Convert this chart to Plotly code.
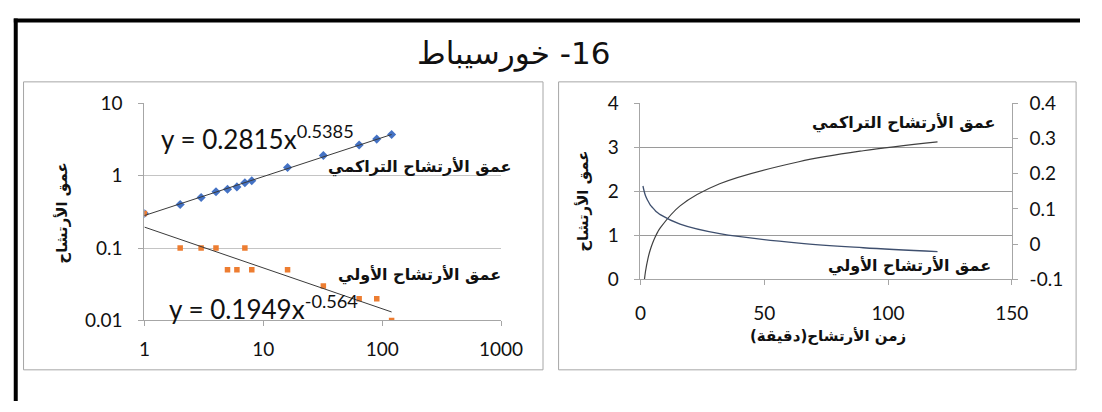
import plotly.graph_objects as go

W, H = 1102, 412

# infiltration test readings, time in minutes
time_min = [1, 2, 3, 4, 5, 6, 7, 8, 16, 32, 64, 90, 120]
cumulative_depth = [0.3, 0.4, 0.5, 0.6, 0.65, 0.7, 0.8, 0.85, 1.3, 1.9, 2.65, 3.2, 3.7]
initial_depth = [0.3, 0.1, 0.1, 0.1, 0.05, 0.05, 0.1, 0.05, 0.05, 0.03, 0.02, 0.02, 0.01]

# power-law trend lines y = a * x^b and the span they cover
cum_coef, cum_exp = 0.2815, 0.5385
init_coef, init_exp = 0.1949, -0.564
trend_span = [1, 120]

# smoothed curves for the linear chart (left and right value axes)
cumulative_curve = [-0.33, 0.17, 0.47, 0.68, 0.84, 0.97, 1.08, 1.17, 1.67, 2.17, 2.67, 2.92, 3.12]
initial_curve = [0.165, 0.138, 0.123, 0.111, 0.103, 0.095, 0.089, 0.084, 0.057, 0.030, 0.003, -0.010, -0.021]

log_x_ticks = [1, 10, 100, 1000]
log_y_ticks = [0.01, 0.1, 1, 10]
log_y_text = ["0.01", "0.1", "1", "10"]
right_ticks = [-0.1, 0, 0.1, 0.2, 0.3, 0.4]
right_text = ["-0.1", "0", "0.1", "0.2", "0.3", "0.4"]

TITLE = "\u2068خورسيباط\u2069 -16"
DEPTH = "عمق الأرتشاح"
CUM_LABEL = "عمق الأرتشاح التراكمي"
INIT_LABEL = "عمق الأرتشاح الأولي"
TIME_LABEL = "زمن الأرتشاح(دقيقة)"

NUM_FONT = "Lato, 'Open Sans', sans-serif"
AR_FONT = "'DejaVu Sans', 'Noto Sans', sans-serif"


def px(x):
    return x / W


def py(y):
    return 1 - y / H


fig = go.Figure()

# log-log chart
fig.add_trace(go.Scatter(
    x=time_min, y=cumulative_depth, mode="markers", xaxis="x", yaxis="y",
    marker=dict(symbol="diamond", size=7, color="#4472C4"), showlegend=False))
fig.add_trace(go.Scatter(
    x=time_min, y=initial_depth, mode="markers", xaxis="x", yaxis="y",
    marker=dict(symbol="square", size=5.5, color="#ED7D31"), showlegend=False))
fig.add_trace(go.Scatter(
    x=trend_span, y=[cum_coef * t ** cum_exp for t in trend_span], mode="lines",
    xaxis="x", yaxis="y", line=dict(color="#3a3a3a", width=1), showlegend=False))
fig.add_trace(go.Scatter(
    x=trend_span, y=[init_coef * t ** init_exp for t in trend_span], mode="lines",
    xaxis="x", yaxis="y", line=dict(color="#3a3a3a", width=1), showlegend=False))

# linear chart with two value axes
fig.add_trace(go.Scatter(
    x=time_min, y=cumulative_curve, mode="lines", xaxis="x2", yaxis="y3",
    line=dict(color="#404040", width=1.2, shape="spline"), showlegend=False))
fig.add_trace(go.Scatter(
    x=time_min, y=initial_curve, mode="lines", xaxis="x2", yaxis="y4",
    line=dict(color="#3E4F6E", width=1.3, shape="spline"), showlegend=False))

axis_common = dict(
    showline=True, linecolor="#A6A6A6", linewidth=1, ticks="outside",
    tickcolor="#A6A6A6", ticklen=5, zeroline=False,
    tickfont=dict(family=NUM_FONT, size=19, color="#111"),
)

fig.update_layout(
    width=W, height=H, margin=dict(l=0, r=0, t=0, b=0),
    paper_bgcolor="white", plot_bgcolor="white",
    xaxis=dict(
        domain=[px(142), px(508)], type="log", range=[0, 3], anchor="y",
        tickvals=log_x_ticks, ticktext=[str(v) for v in log_x_ticks],
        showgrid=False, ticklabelstandoff=7, **axis_common),
    yaxis=dict(
        domain=[py(326.7), py(96.7)], type="log", range=[-2, 1], anchor="x",
        tickvals=log_y_ticks, ticktext=log_y_text,
        showgrid=True, gridcolor="#C4C4C4", ticklabelstandoff=12, **axis_common),
    xaxis2=dict(
        domain=[px(651), px(1032)], range=[0, 150], dtick=50, anchor="y3",
        showgrid=False, ticklabelstandoff=12, **axis_common),
    yaxis3=dict(
        domain=[py(283.3), py(96.5)], range=[0, 4], dtick=1, anchor="x2",
        showgrid=True, gridcolor="#9A9A9A", ticklabelstandoff=12, **axis_common),
    yaxis4=dict(
        domain=[py(283.3), py(96.5)], range=[-0.1, 0.4], anchor="x2",
        tickvals=right_ticks, ticktext=right_text,
        overlaying="y3", side="right", showgrid=False,
        ticklabelstandoff=8, **axis_common),
)

shapes = [
    # chart panels
    dict(type="rect", xref="paper", yref="paper", x0=px(18), x1=px(551), y0=py(379), y1=py(74),
         line=dict(color="#A6A6A6", width=1), layer="below"),
    dict(type="rect", xref="paper", yref="paper", x0=px(567), x1=px(1098), y0=py(379), y1=py(74),
         line=dict(color="#A6A6A6", width=1), layer="below"),
    # page frame
    dict(type="line", xref="paper", yref="paper", x0=px(8), x1=1, y0=py(9), y1=py(9),
         line=dict(color="black", width=4)),
    dict(type="line", xref="paper", yref="paper", x0=px(10), x1=px(10), y0=py(7), y1=0,
         line=dict(color="black", width=4)),
]
fig.update_layout(shapes=shapes)

ann = []


def text(x, y, s, size, font=AR_FONT, bold=False, angle=0, color="#111", anchor="center"):
    ann.append(dict(
        x=px(x), y=py(y), xref="paper", yref="paper", text=(f"<b>{s}</b>" if bold else s),
        showarrow=False, textangle=angle, xanchor=anchor, yanchor="middle",
        font=dict(family=font, size=size, color=color)))


text(521, 44, TITLE, 31)
text(58, 213, DEPTH, 15, bold=True, angle=-90)
text(592, 200, DEPTH, 15, bold=True, angle=-90)
text(843, 343, TIME_LABEL, 15, bold=True)
text(258, 133, f"y = {cum_coef}x<sup>{cum_exp}</sup>", 26, font=NUM_FONT)
text(264, 313, f"y = {init_coef}x<sup>{init_exp}</sup>", 26, font=NUM_FONT)
text(520, 164, CUM_LABEL, 16, bold=True, anchor="right")
text(510, 279, INIT_LABEL, 16, bold=True, anchor="right")
text(1017, 118, CUM_LABEL, 16, bold=True, anchor="right")
text(1013, 269, INIT_LABEL, 16, bold=True, anchor="right")
fig.update_layout(annotations=ann)

fig.write_html("out.html", config=dict(displayModeBar=False),
               post_script="document.body.style.margin = '0px';")
